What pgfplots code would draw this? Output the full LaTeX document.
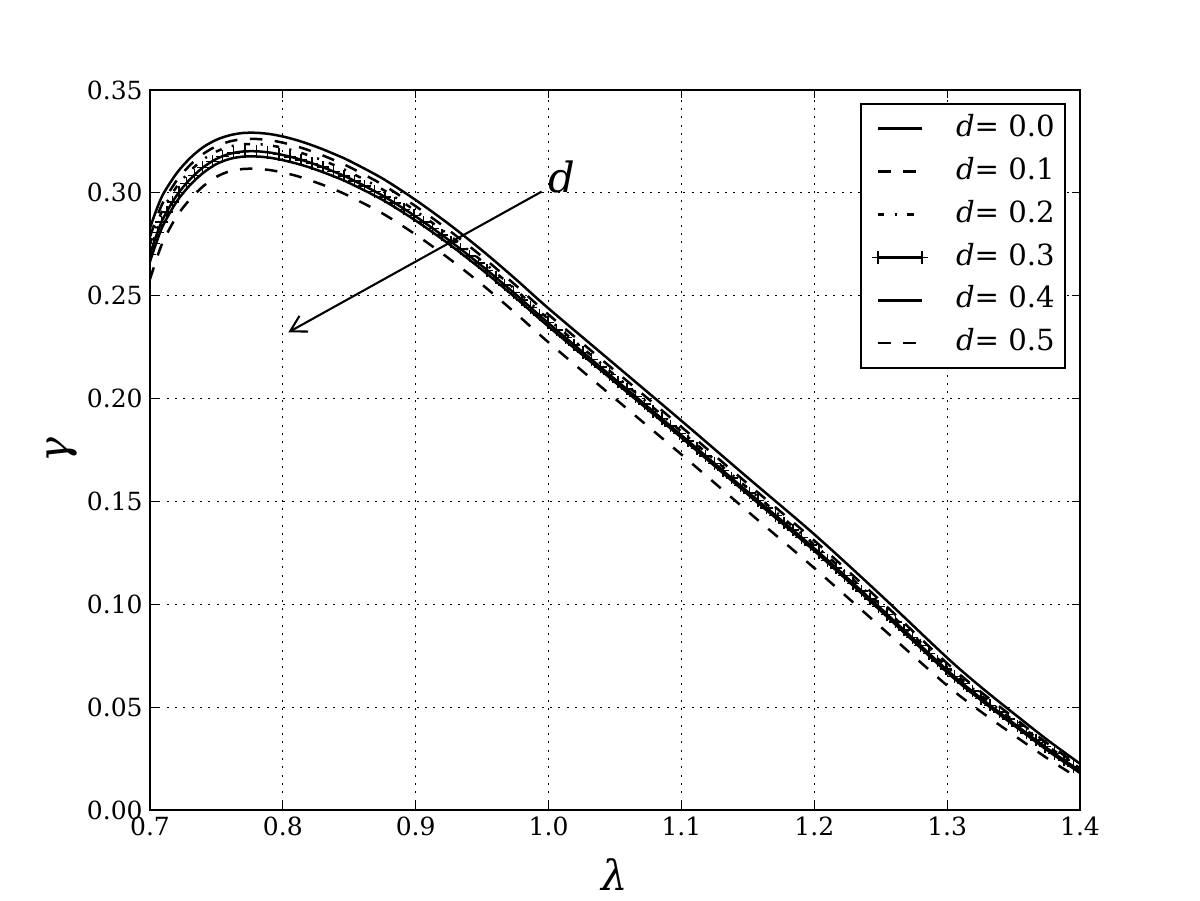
\documentclass[border=0pt]{standalone}
\usepackage{pgfplots}
\pgfplotsset{compat=1.18}
\usepackage{pgfplotstable}
\usepackage{fontspec}
\setmainfont{DejaVu Serif}
\usetikzlibrary{arrows.meta,decorations.markings}

\pgfplotstableread{
x d0 d1 d2 d3 d4 d5
0.700 0.2830 0.2787 0.2751 0.2701 0.2666 0.2580
0.705 0.2920 0.2879 0.2845 0.2797 0.2762 0.2680
0.710 0.2995 0.2956 0.2923 0.2877 0.2844 0.2766
0.720 0.3095 0.3059 0.3029 0.2987 0.2957 0.2885
0.730 0.3168 0.3134 0.3105 0.3065 0.3037 0.2968
0.740 0.3222 0.3189 0.3162 0.3124 0.3097 0.3032
0.750 0.3258 0.3227 0.3201 0.3165 0.3140 0.3078
0.760 0.3280 0.3250 0.3225 0.3190 0.3165 0.3105
0.770 0.3291 0.3261 0.3236 0.3201 0.3176 0.3116
0.780 0.3292 0.3262 0.3237 0.3202 0.3177 0.3117
0.790 0.3286 0.3256 0.3231 0.3196 0.3171 0.3111
0.800 0.3274 0.3244 0.3219 0.3184 0.3159 0.3099
0.810 0.3257 0.3227 0.3202 0.3168 0.3143 0.3083
0.820 0.3236 0.3206 0.3181 0.3148 0.3124 0.3062
0.830 0.3212 0.3182 0.3158 0.3125 0.3101 0.3039
0.840 0.3185 0.3155 0.3131 0.3099 0.3076 0.3013
0.850 0.3156 0.3126 0.3102 0.3071 0.3048 0.2984
0.875 0.3070 0.3040 0.3017 0.2987 0.2966 0.2900
0.900 0.2965 0.2935 0.2912 0.2885 0.2865 0.2797
0.925 0.2848 0.2818 0.2795 0.2770 0.2751 0.2681
0.950 0.2720 0.2690 0.2668 0.2644 0.2626 0.2554
0.975 0.2582 0.2552 0.2530 0.2508 0.2491 0.2416
1.000 0.2438 0.2408 0.2386 0.2366 0.2350 0.2273
1.050 0.2165 0.2135 0.2113 0.2094 0.2080 0.2000
1.100 0.1892 0.1862 0.1840 0.1822 0.1810 0.1728
1.150 0.1615 0.1585 0.1564 0.1546 0.1534 0.1451
1.200 0.1340 0.1310 0.1290 0.1272 0.1260 0.1176
1.250 0.1045 0.1016 0.0997 0.0980 0.0968 0.0890
1.300 0.0740 0.0713 0.0695 0.0680 0.0669 0.0605
1.325 0.0600 0.0576 0.0560 0.0546 0.0536 0.0480
1.350 0.0470 0.0450 0.0435 0.0422 0.0413 0.0365
1.375 0.0343 0.0326 0.0314 0.0301 0.0292 0.0253
1.400 0.0225 0.0212 0.0202 0.0190 0.0180 0.0150
}\datatable

\begin{document}
\begin{tikzpicture}
\path[use as bounding box] (0,0) rectangle (576pt,432pt);
\begin{axis}[
  at={(72pt,43.2pt)}, anchor=south west,
  scale only axis, width=446.4pt, height=345.6pt,
  xmin=0.7, xmax=1.4, ymin=0, ymax=0.35,
  xtick={0.7,0.8,0.9,1.0,1.1,1.2,1.3,1.4},
  ytick={0,0.05,0.10,0.15,0.20,0.25,0.30,0.35},
  scaled ticks=false,
  xticklabel style={/pgf/number format/.cd, fixed, fixed zerofill, precision=1},
  yticklabel style={/pgf/number format/.cd, fixed, fixed zerofill, precision=2},
  /pgf/number format/assume math mode=true,
  ticklabel style={font=\fontsize{12}{14}\selectfont},
  tick align=inside, major tick length=4pt,
  tick style={black, line width=0.5pt},
  grid=major,
  major grid style={black, line width=0.5pt, dash pattern=on 1pt off 3pt},
  axis line style={line width=1pt},
  xlabel={\itshape λ}, ylabel={\itshape γ},
  label style={font=\fontsize{20}{24}\selectfont},
  xlabel style={at={(axis description cs:0.5,-0.0903)}, anchor=center},
  ylabel style={at={(axis description cs:-0.0948,0.5)}, anchor=center},
  legend style={at={(axis description cs:1,1)}, anchor=north east,
    xshift=-6.6pt, yshift=-6.2pt, draw=black, line width=1pt,
    inner xsep=5pt, inner ysep=5.2pt, row sep=7.3pt,
    font=\fontsize{14}{16}\selectfont,
    nodes={inner sep=0pt, text height=10.3pt, text depth=3pt},
    /tikz/every odd column/.append style={column sep=13pt}},
  legend cell align=left,
  legend image code/.code={\draw[#1, line width=1.2pt] (0pt,0pt) -- (21pt,0pt);},
]
\addplot[black, line width=1.2pt, smooth] table[x=x,y=d0]{\datatable};
\addlegendentry{{\itshape d}= 0.0}
\addplot[black, line width=1.2pt, smooth, dash pattern=on 6pt off 6pt] table[x=x,y=d1]{\datatable};
\addlegendentry{{\itshape d}= 0.1}
\addplot[black, line width=1.2pt, smooth, dash pattern=on 3pt off 5pt on 1pt off 5pt] table[x=x,y=d2]{\datatable};
\addlegendentry{{\itshape d}= 0.2}
\addplot[black, line width=1.2pt, smooth,
  legend image code/.code={\draw[black, line width=1.2pt] (0pt,0pt) -- (21pt,0pt);
    \draw[black, line width=0.7pt] (-3pt,0pt)--(3pt,0pt) (0pt,-3pt)--(0pt,3pt) (18pt,0pt)--(24pt,0pt) (21pt,-3pt)--(21pt,3pt);}
  ] table[x=x,y=d3]{\datatable};
\addlegendentry{{\itshape d}= 0.3}
\addplot[forget plot, draw=none,
  postaction={decorate},
  decoration={markings, mark=between positions 0 and 1 step 5.5pt with {\pgftransformresetnontranslations\draw[black, line width=0.7pt,solid] (-3pt,0pt)--(3pt,0pt) (0pt,-3pt)--(0pt,3pt);}}
  ] table[x=x,y=d3]{\datatable};
\addplot[black, line width=1.2pt, smooth] table[x=x,y=d4]{\datatable};
\addlegendentry{{\itshape d}= 0.4}
\addplot[black, line width=1.2pt, smooth, dash pattern=on 6pt off 6pt] table[x=x,y=d5]{\datatable};
\addlegendentry{{\itshape d}= 0.5}
\draw[line width=1pt, -{Straight Barb[length=7.5pt,width=8.6pt]}] (axis cs:0.9948,0.3006) -- (axis cs:0.8041,0.2322);
\node[anchor=base west, inner sep=0pt, font=\fontsize{20}{24}\selectfont] at (axis cs:0.9996,0.3004) {\itshape d};
\end{axis}
\end{tikzpicture}
\end{document}
